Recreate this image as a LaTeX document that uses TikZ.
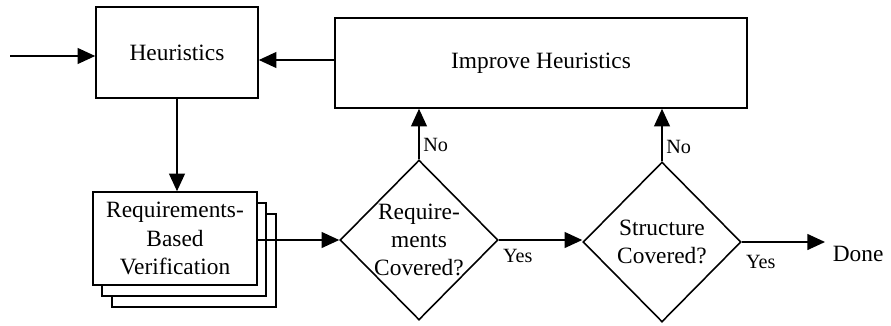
\documentclass[tikz,border=0pt]{standalone}
\usepackage{fontspec}
\setmainfont{Liberation Serif}
\usetikzlibrary{shapes.geometric,arrows.meta}

\begin{document}
\begin{tikzpicture}[x=0.02cm, y=-0.02cm, line width=0.9pt,
    box/.style={draw, rectangle, fill=white, align=center, font=\fontsize{13.3}{16}\selectfont},
    decision/.style={draw, diamond, inner sep=0pt, minimum width=3.16cm, minimum height=3.2cm},
    arr/.style={-{Triangle[length=10pt,width=9pt]}},
    small/.style={font=\fontsize{11.5}{13}\selectfont, inner sep=2pt}]
    \useasboundingbox (0,0) rectangle (891,325);

    % Define the boxes
    \node (heur) at (177,52.5) [box, minimum width=3.24cm, minimum height=1.82cm] {Heuristics};
    \node (improve) at (541,63) [box, minimum width=8.24cm, minimum height=1.8cm] {Improve Heuristics};

    % Stacked copies behind the verification box
    \draw[fill=white] (112,214) rectangle (276,307);
    \draw[fill=white] (102,203) rectangle (266,296);
    \node (req) at (175,238.5) [box, minimum width=3.28cm, minimum height=1.86cm] {Requirements-\\Based\\Verification};

    % Draw the decisions
    \node (reqcov) at (419,240) [decision] {};
    \node (reqtext) at (419,240) [align=center, font=\fontsize{13.3}{16}\selectfont] {Require-\\ments\\Covered?};
    \node (strcov) at (662,242) [decision, align=center, font=\fontsize{13.3}{16}\selectfont] {Structure\\Covered?};
    \node (done) at (825,254) [anchor=west, inner sep=4pt, font=\fontsize{13.3}{16}\selectfont] {Done};
    \coordinate (in) at (10,56);

    % Draw the arrows
    \draw[arr] (in) -- (in -| heur.west);
    \draw[arr] ([yshift=0.06cm]improve.west) -- ([yshift=0.06cm]improve.west -| heur.east);
    \draw[arr] (heur.south) -- (heur.south |- req.north);
    \draw[arr] (req.east |- reqcov) -- (reqcov.west);
    \draw[arr] (reqcov.north) -- (reqcov.north |- improve.south)
        node[pos=0.28, anchor=west, small] {No};
    \draw[arr] (reqcov.east) -- (reqcov.east -| strcov.west)
        node[pos=0, anchor=north west, yshift=-3pt, small] {Yes};
    \draw[arr] (strcov.north) -- (strcov.north |- improve.south)
        node[pos=0.28, anchor=west, small] {No};
    \draw[arr] (strcov.east) -- (strcov.east -| done.west)
        node[pos=0, anchor=north west, yshift=-5pt, small] {Yes};
\end{tikzpicture}
\end{document}
